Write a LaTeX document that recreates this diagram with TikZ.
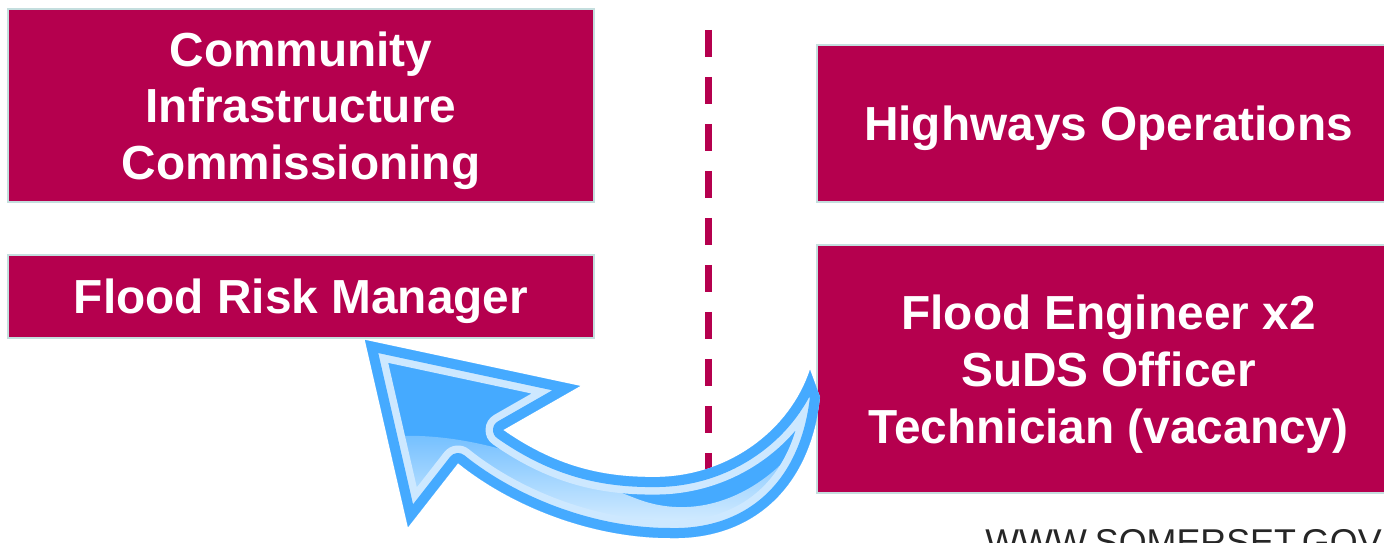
\documentclass[tikz,border=0pt]{standalone}
\usepackage{fontspec}
\setmainfont{Liberation Sans}
\usetikzlibrary{positioning}
\definecolor{somerset}{RGB}{181,0,78}
\definecolor{boxedge}{RGB}{196,222,222}
\definecolor{arrowblue}{RGB}{69,170,255}
\definecolor{arrowlight}{RGB}{205,232,255}
\definecolor{arrowpale}{RGB}{234,246,255}

\begin{document}
\begin{tikzpicture}[x=0.02cm, y=-0.02cm,
  box/.style={rectangle, fill=somerset, draw=boxedge, line width=1.2pt, text=white,
    font=\fontsize{27.2}{32.3}\selectfont\bfseries, align=center, inner sep=0pt, text depth=0pt},
  divider/.style={draw=somerset, line width=0.14cm, dash pattern=on 0.54cm off 0.4cm}]
  \useasboundingbox (0,0) rectangle (1384,543);
  \clip (0,0) rectangle (1384,543);

  % left column
  \node [box, minimum width=11.72cm, minimum height=3.86cm] (cic) at (301,105.5) {Community\\Infrastructure\\Commissioning};
  \node [box, minimum width=11.72cm, minimum height=1.66cm, below of=cic, node distance=3.82cm] (frm) {Flood Risk Manager};

  % right column
  \node [box, minimum width=11.66cm, minimum height=3.14cm] (hwy) at (1108.5,123.5) {Highways Operations};
  \node [box, minimum width=11.66cm, minimum height=4.96cm, below of=hwy, node distance=4.91cm] (eng) {Flood Engineer x2\\SuDS Officer\\Technician (vacancy)};

  % divider
  \coordinate (dtop) at (708,30);
  \coordinate (dbot) at (708,480);
  \path[divider] (dtop) -- (dbot);

  % return arrow
  \path[save path=\returnpath] (365,340) -- (580,386) -- (503,430)
    .. controls (560,470) and (610,478) .. (660,477)
    .. controls (730,475) and (790,430) .. (810,370) -- (820,397)
    .. controls (810,490) and (750,540) .. (670,538)
    .. controls (590,538) and (510,505) .. (458,463) -- (408,527) -- cycle;
  \fill[arrowblue, use path=\returnpath];
  \begin{scope}
    \clip[use path=\returnpath];
    \shade[top color=arrowblue, bottom color=arrowpale] (380,437)
      .. controls (480,428) and (560,470) .. (640,500)
      .. controls (720,528) and (800,470) .. (830,390) -- (830,545) -- (380,545) -- cycle;
    \draw[arrowlight, line width=0.7cm, line join=round, use path=\returnpath];
    \draw[arrowblue, line width=0.4cm, line join=round, use path=\returnpath];
  \end{scope}

  \node [anchor=base west, inner sep=0pt, text=black!85, font=\fontsize{20.4}{24}\selectfont] (web) at (985,555) {WWW.SOMERSET.GOV};
\end{tikzpicture}
\end{document}
